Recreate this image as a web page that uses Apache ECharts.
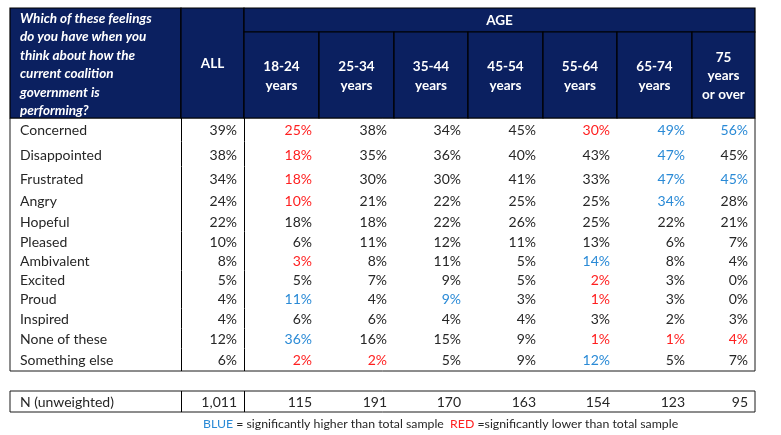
<!DOCTYPE html>
<html>
<head>
<meta charset="utf-8">
<script src="https://cdn.jsdelivr.net/npm/echarts@6/dist/echarts.min.js"></script>
<style>html,body{margin:0;padding:0;background:#fff;}#chart{width:781px;height:435px;}</style>
</head>
<body>
<div id="chart"></div>
<script>
// ---------- DATA ----------
const question = 'Which of these feelings\ndo you have when you\nthink about how the\ncurrent coalition\ngovernment is\nperforming?';
const allLabel = 'ALL';
const ageTitle = 'AGE';
const ageGroups = ['18-24\nyears', '25-34\nyears', '35-44\nyears', '45-54\nyears', '55-64\nyears', '65-74\nyears', '75\nyears\nor over'];
const categories = ['Concerned', 'Disappointed', 'Frustrated', 'Angry', 'Hopeful', 'Pleased', 'Ambivalent', 'Excited', 'Proud', 'Inspired', 'None of these', 'Something else'];
const pctAll   = [39, 38, 34, 24, 22, 10, 8, 5, 4, 4, 12, 6];
const pct1824  = [25, 18, 18, 10, 18, 6, 3, 5, 11, 6, 36, 2];
const pct2534  = [38, 35, 30, 21, 18, 11, 8, 7, 4, 6, 16, 2];
const pct3544  = [34, 36, 30, 22, 22, 12, 11, 9, 9, 4, 15, 5];
const pct4554  = [45, 40, 41, 25, 26, 11, 5, 5, 3, 4, 9, 9];
const pct5564  = [30, 43, 33, 25, 25, 13, 14, 2, 1, 3, 1, 12];
const pct6574  = [49, 47, 47, 34, 22, 6, 8, 3, 3, 2, 1, 5];
const pct75    = [56, 45, 45, 28, 21, 7, 4, 0, 0, 3, 4, 7];
// significance: H = significantly higher (blue), L = significantly lower (red)
const sigAll  = ['', '', '', '', '', '', '', '', '', '', '', ''];
const sig1824 = ['L', 'L', 'L', 'L', '', '', 'L', '', 'H', '', 'H', 'L'];
const sig2534 = ['', '', '', '', '', '', '', '', '', '', '', 'L'];
const sig3544 = ['', '', '', '', '', '', '', '', 'H', '', '', ''];
const sig4554 = ['', '', '', '', '', '', '', '', '', '', '', ''];
const sig5564 = ['L', '', '', '', '', '', 'H', 'L', 'L', '', 'L', 'H'];
const sig6574 = ['H', 'H', 'H', 'H', '', '', '', '', '', '', 'L', ''];
const sig75   = ['H', '', 'H', '', '', '', '', '', '', '', 'L', ''];
const nLabel = 'N (unweighted)';
const nUnweighted = [1011, 115, 191, 170, 163, 154, 123, 95];
const footBlue = 'BLUE';
const footBlueText = ' = significantly higher than total sample  ';
const footRed = 'RED';
const footRedText = ' =significantly lower than total sample';

// ---------- LAYOUT / STYLE ----------
const NAVY = '#0b2060';
const BLUE = '#2a8ad6';
const RED = '#ff1f1f';
const INK = '#262626';
const FONT = 'Lato, Carlito, "Open Sans", sans-serif';
const TABLE_W = 745;
const colEdges = [0, 171, 234, 309, 384, 458, 533, 607, 682, 745];
const rowHeights = [23.5, 25, 23.5, 21, 20.5, 19.5, 19.5, 18.5, 19.5, 20, 20, 22.5];
const BODY_H = rowHeights.reduce((a, b) => a + b, 0);
const rowTops = rowHeights.map((h, i) => rowHeights.slice(0, i).reduce((a, b) => a + b, 0));
const pctColumns = [pctAll, pct1824, pct2534, pct3544, pct4554, pct5564, pct6574, pct75];
const sigColumns = [sigAll, sig1824, sig2534, sig3544, sig4554, sig5564, sig6574, sig75];

function colorFor(s) { return s === 'H' ? BLUE : (s === 'L' ? RED : INK); }
function fmtN(v) { return v.toLocaleString('en-US'); }

// header cells built from the heading texts
const headerCells = [
  { x0: colEdges[0], x1: colEdges[1], y0: 0, y1: 110, text: question, kind: 'question' },
  { x0: colEdges[1], x1: colEdges[2], y0: 0, y1: 110, text: allLabel, kind: 'center' },
  { x0: colEdges[2], x1: colEdges[9], y0: 0, y1: 24, text: ageTitle, kind: 'center' }
];
ageGroups.forEach((g, i) => {
  headerCells.push({ x0: colEdges[i + 2], x1: colEdges[i + 3], y0: 24, y1: 110, text: g, kind: 'center' });
});

function renderHeader(params, api) {
  const c = headerCells[api.value(0)];
  const p0 = api.coord([c.x0, c.y0]);
  const p1 = api.coord([c.x1, c.y1]);
  const children = [{
    type: 'rect',
    shape: { x: p0[0], y: p0[1], width: p1[0] - p0[0], height: p1[1] - p0[1] },
    style: { fill: NAVY, stroke: '#000', lineWidth: 1.2 }
  }];
  if (c.kind === 'question') {
    children.push({
      type: 'text',
      style: {
        x: p0[0] + 10, y: p0[1] + 1, text: c.text, fill: '#fff',
        fontFamily: FONT, fontSize: 13.5, fontWeight: 'bold', fontStyle: 'italic',
        lineHeight: 18.5, align: 'left', verticalAlign: 'top'
      }
    });
  } else {
    children.push({
      type: 'text',
      style: {
        x: (p0[0] + p1[0]) / 2, y: (p0[1] + p1[1]) / 2 + 1, text: c.text, fill: '#fff',
        fontFamily: FONT, fontSize: 13.5, fontWeight: 'bold',
        lineHeight: 18.5, align: 'center', verticalAlign: 'middle'
      }
    });
  }
  return { type: 'group', children: children };
}

function rowGroup(api, label, texts, colors, yTop, yBottom) {
  const pTop = api.coord([0, yTop]);
  const pBot = api.coord([0, yBottom]);
  const yc = (pTop[1] + pBot[1]) / 2 + 1;
  const children = [];
  children.push({
    type: 'text',
    style: { x: pTop[0] + 10, y: yc, text: label, fill: INK, fontFamily: FONT, fontSize: 14, align: 'left', verticalAlign: 'middle' }
  });
  texts.forEach((t, ci) => {
    const xr = api.coord([colEdges[ci + 2], yTop])[0];
    children.push({
      type: 'text',
      style: { x: xr - 7, y: yc, text: t, fill: colors[ci], fontFamily: FONT, fontSize: 14, align: 'right', verticalAlign: 'middle' }
    });
  });
  [1, 2].forEach(k => {
    const x = Math.round(api.coord([colEdges[k], yTop])[0]) + 0.5;
    children.push({
      type: 'line',
      shape: { x1: x, y1: pTop[1], x2: x, y2: pBot[1] },
      style: { stroke: '#000', lineWidth: 1 }
    });
  });
  return { type: 'group', children: children };
}

function renderBody(params, api) {
  const r = api.value(2);
  const texts = pctColumns.map(col => col[r] + '%');
  const colors = sigColumns.map(s => colorFor(s[r]));
  return rowGroup(api, categories[r], texts, colors, rowTops[r], rowTops[r] + rowHeights[r]);
}

function renderN(params, api) {
  return rowGroup(api, nLabel, nUnweighted.map(fmtN), nUnweighted.map(() => INK), 0, 1);
}

const chart = echarts.init(document.getElementById('chart'), null, { renderer: 'canvas' });
chart.setOption({
  animation: false,
  backgroundColor: '#fff',
  title: {
    left: 198, top: 413,
    text: '{b|' + footBlue + '}' + footBlueText + '{r|' + footRed + '}' + footRedText,
    textStyle: {
      fontFamily: FONT, fontSize: 12.3, fontWeight: 'normal', color: INK,
      rich: { b: { color: BLUE, fontFamily: FONT, fontSize: 12.3 }, r: { color: RED, fontFamily: FONT, fontSize: 12.3 } }
    }
  },
  grid: [
    { left: 10, top: 8, width: TABLE_W, height: 110, show: false },
    { left: 10, top: 118, width: TABLE_W, height: BODY_H, show: true, backgroundColor: '#fff', borderColor: '#1a1a1a', borderWidth: 1 },
    { left: 10, top: 391, width: TABLE_W, height: 21, show: true, backgroundColor: '#fff', borderColor: '#1a1a1a', borderWidth: 1 }
  ],
  xAxis: [
    { gridIndex: 0, type: 'value', min: 0, max: TABLE_W, show: false },
    { gridIndex: 1, type: 'value', min: 0, max: TABLE_W, show: false },
    { gridIndex: 2, type: 'value', min: 0, max: TABLE_W, show: false }
  ],
  yAxis: [
    { gridIndex: 0, type: 'value', min: 0, max: 110, inverse: true, show: false },
    { gridIndex: 1, type: 'value', min: 0, max: BODY_H, inverse: true, show: false },
    { gridIndex: 2, type: 'value', min: 0, max: 1, inverse: true, show: false }
  ],
  series: [
    {
      type: 'custom', xAxisIndex: 0, yAxisIndex: 0,
      data: headerCells.map((c, i) => [i]),
      encode: { x: -1, y: -1 },
      renderItem: renderHeader, silent: true, clip: false
    },
    {
      type: 'custom', xAxisIndex: 1, yAxisIndex: 1,
      data: categories.map((c, i) => [0, rowTops[i] + rowHeights[i] / 2, i]),
      encode: { x: 0, y: 1 },
      renderItem: renderBody, silent: true, clip: false
    },
    {
      type: 'custom', xAxisIndex: 2, yAxisIndex: 2,
      data: [[0, 0.5, 0]],
      encode: { x: 0, y: 1 },
      renderItem: renderN, silent: true, clip: false
    }
  ]
});
</script>
</body>
</html>
